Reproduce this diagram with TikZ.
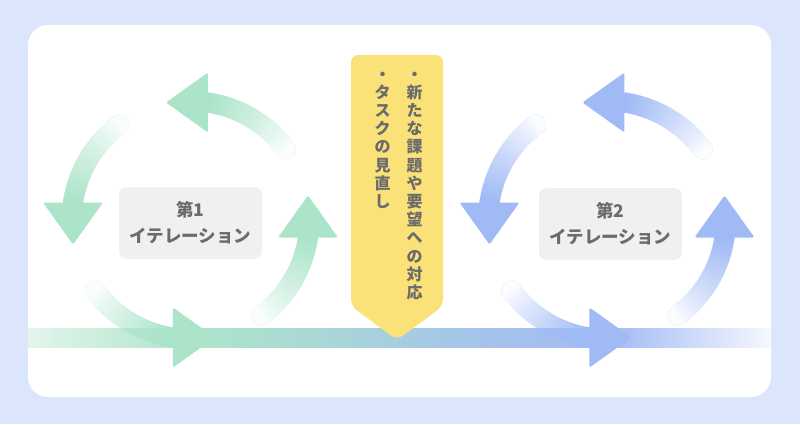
\documentclass[tikz,border=0pt]{standalone}
\usepackage{fontspec}
\newfontfamily\jp{Noto Sans CJK JP}
\usetikzlibrary{fadings}
\definecolor{bgc}{HTML}{DBE5FC}
\definecolor{cgreen}{HTML}{ABE4C9}
\definecolor{cblue}{HTML}{A0BAF6}
\definecolor{ban}{HTML}{FAE278}
\definecolor{boxgray}{HTML}{F0F0F0}
\definecolor{txtgray}{HTML}{6B6B6B}
\definecolor{bA}{HTML}{E3F5EB}
\definecolor{bB}{HTML}{ADE5CB}
\definecolor{bC}{HTML}{A9D6D6}
\definecolor{bD}{HTML}{A5C5E8}
\definecolor{bE}{HTML}{A3BAF5}
\definecolor{bF}{HTML}{F6F8FE}
\newcommand\cyclemask{%
  \foreach \k in {0,1,2,3}{%
    \begin{scope}[rotate=90*\k]
      \fill[transparent!96] (-36.5:118.8) circle[radius=10];
      \foreach \i in {0,...,44}{%
        \pgfmathsetmacro\cta{-36.5-\i}%
        \pgfmathsetmacro\ctb{-37.9-\i}%
        \pgfmathtruncatemacro\ctv{100-100*(0.04+0.96*((\i+0.5)/45)^0.85)}%
        \draw[line width=20pt, draw=transparent!\ctv] (\cta:118.8) -- (\ctb:118.8);%
      }%
      \draw[line width=20pt, draw=transparent!0] (-80.5:118.8) -- (-84:118.8);
      \fill[transparent!0, rounded corners=2pt] (17.5,-147.5) -- (17.5,-87.5) -- (-24.5,-117.5) -- cycle;
    \end{scope}
  }}
\begin{tikzfadingfrompicture}[name=fadeG, x=1pt, y=-1pt]
  \path (-800,-800) rectangle (800,800);
  \begin{scope}[shift={(190.5,220)}]\cyclemask\end{scope}
\end{tikzfadingfrompicture}
\begin{tikzfadingfrompicture}[name=fadeB, x=1pt, y=-1pt]
  \path (-800,-800) rectangle (800,800);
  \begin{scope}[shift={(607,220)}]\cyclemask\end{scope}
\end{tikzfadingfrompicture}
\tikzset{
  itbox/.style={fill=boxgray, rounded corners=8pt, minimum width=143pt, minimum height=72pt,
    inner sep=0pt, align=center, text=txtgray, font=\jp\bfseries\fontsize{17.5}{26}\selectfont},
  vch/.style={anchor=base, inner sep=0pt, text=txtgray, font=\jp\bfseries\fontsize{16}{16}\selectfont},
}
\begin{document}
\begin{tikzpicture}[x=1pt,y=-1pt]
\useasboundingbox (0,0) rectangle (800,424);
\fill[bgc] (0,0) rectangle (800,424);
\fill[white, rounded corners=20pt] (28,25) rectangle (771,397);
% timeline bar
\shade[left color=bA, right color=bB] (28,328) rectangle (190.6,347);
\shade[left color=bB, right color=bC] (190,328) rectangle (330.6,347);
\shade[left color=bC, right color=bD] (330,328) rectangle (460.6,347);
\shade[left color=bD, right color=bE] (460,328) rectangle (612.6,347);
\shade[left color=bE, right color=bF] (612,328) rectangle (771,347);
% cycles
\fill[cgreen, path fading=fadeG, fit fading=false] (-800,-800) rectangle (800,800);
\fill[cblue, path fading=fadeB, fit fading=false] (-800,-800) rectangle (800,800);
% iteration boxes
\node[itbox] (it1) at (190.5,223) {第1\\イテレーション};
\node[itbox] (it2) at (610.5,224) {第2\\イテレーション};
% banner
\fill[ban, rounded corners=7pt] (351,55) -- (443,55) -- (443,306) -- (397,340) -- (351,306) -- cycle;
\foreach \ch [count=\n from 0] in {・,新,た,な,課,題,や,要,望,へ,の,対,応}
  \node[vch] (r\n) at (414.5,{80+18.2*\n}) {\ch};
\foreach \ch [count=\n from 0] in {・,タ,ス,ク,の,見,直,し}
  \node[vch] (l\n) at (382.5,{80+18.2*\n}) {\ch};
\end{tikzpicture}
\end{document}
